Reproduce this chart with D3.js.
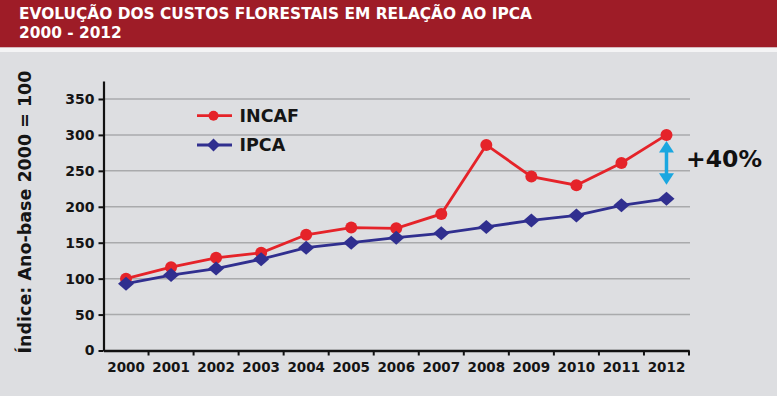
<!DOCTYPE html>
<html><head><meta charset="utf-8">
<script src="https://cdn.jsdelivr.net/npm/d3@7"></script>
<style>
html,body{margin:0;padding:0;background:#dddee1;}
svg{display:block;font-family:"DejaVu Sans",Verdana,sans-serif;}
</style></head>
<body>
<svg id="chart" width="777" height="396"></svg>
<script>
const years = ["2000","2001","2002","2003","2004","2005","2006","2007","2008","2009","2010","2011","2012"];
const incaf = [100,116,129,136,161,171,170,190,286,242,230,261,300];
const ipca  = [93,105,114,127,143,150,157,163,172,181,188,202,211];
const yTicks = [0,50,100,150,200,250,300,350];
const titleLines = ["EVOLUÇÃO DOS CUSTOS FLORESTAIS EM RELAÇÃO AO IPCA","2000 - 2012"];
const yTitle = "Índice: Ano-base 2000 = 100";
const seriesNames = ["INCAF","IPCA"];
const diffLabel = "+40%";

const svg = d3.select("#chart");
const W = 777, H = 396;
const RED = "#e52329", BLUE = "#302f8f", CYAN = "#1aa7e0";

svg.append("rect").attr("width",W).attr("height",H).attr("fill","#dddee1");
// header
svg.append("rect").attr("x",0).attr("y",0).attr("width",W).attr("height",47.5).attr("fill","#9e1c27");
svg.append("rect").attr("x",0).attr("y",47.5).attr("width",W).attr("height",4.5).attr("fill","#f4f4f5");
svg.selectAll("text.title").data(titleLines).enter().append("text")
  .attr("x",19).attr("y",(d,i)=>19+i*18.8)
  .attr("fill","#ffffff").attr("font-weight","bold").attr("font-size","15.4px")
  .text(d=>d);

const x = d3.scaleBand().domain(years).range([103.5,689]).padding(0);
const y = d3.scaleLinear().domain([0,375]).range([350.5,81]);

// gridlines
svg.append("g").selectAll("line").data(yTicks.filter(d=>d>0)).enter().append("line")
  .attr("x1",104).attr("x2",690).attr("y1",d=>y(d)).attr("y2",d=>y(d))
  .attr("stroke","#a9aaac").attr("stroke-width",1.5);

// y axis
const yAxis = svg.append("g").attr("transform","translate(103.5,0)")
  .call(d3.axisLeft(y).tickValues(yTicks).tickSize(5).tickSizeOuter(0).tickPadding(4));
yAxis.select(".domain").attr("stroke","#111").attr("stroke-width",2.2);
yAxis.selectAll(".tick line").attr("stroke","#111").attr("stroke-width",2);
yAxis.selectAll(".tick text").attr("font-size","14px").attr("font-weight","bold")
  .attr("fill","#151515").attr("font-family","DejaVu Sans");

// x axis
const xAxis = svg.append("g").attr("transform","translate(0,350.5)")
  .call(d3.axisBottom(x).tickSize(0).tickSizeOuter(0).tickPadding(12));
xAxis.select(".domain").attr("stroke","#111").attr("stroke-width",2.4);
xAxis.selectAll(".tick text").attr("font-size","13.5px").attr("font-weight","bold")
  .attr("fill","#151515").attr("font-family","DejaVu Sans");
// boundary ticks between categories
const bounds = years.map(d=>x(d)).concat([x(years[years.length-1])+x.bandwidth()]);
xAxis.selectAll("line.b").data(bounds.slice(1)).enter().append("line")
  .attr("x1",d=>d).attr("x2",d=>d).attr("y1",0).attr("y2",5)
  .attr("stroke","#111").attr("stroke-width",2);

// y title
svg.append("text").attr("transform","translate(30.5,212) rotate(-90)")
  .attr("text-anchor","middle").attr("font-size","17.5px").attr("font-weight","bold")
  .attr("fill","#151515").text(yTitle);

const cx = d => x(d)+x.bandwidth()/2;
const line = d3.line().x((d,i)=>cx(years[i])).y(d=>y(d));

// INCAF
svg.append("path").datum(incaf).attr("d",line).attr("fill","none")
  .attr("stroke",RED).attr("stroke-width",2.8);
svg.append("g").selectAll("circle").data(incaf).enter().append("circle")
  .attr("cx",(d,i)=>cx(years[i])).attr("cy",d=>y(d)).attr("r",6).attr("fill",RED);

// IPCA
const diamond = (w,h) => `M0,${-h/2}L${w/2},0L0,${h/2}L${-w/2},0Z`;
svg.append("path").datum(ipca).attr("d",line).attr("fill","none")
  .attr("stroke",BLUE).attr("stroke-width",2.8);
svg.append("g").selectAll("path").data(ipca).enter().append("path")
  .attr("transform",(d,i)=>`translate(${cx(years[i])},${y(d)})`)
  .attr("d",diamond(16,14)).attr("fill",BLUE);

// legend
const leg = svg.append("g");
const legY = [115.7,145];
seriesNames.forEach((n,i)=>{
  const c = i===0?RED:BLUE;
  leg.append("line").attr("x1",197).attr("x2",232).attr("y1",legY[i]).attr("y2",legY[i])
    .attr("stroke",c).attr("stroke-width",2.8);
  if(i===0) leg.append("circle").attr("cx",213.5).attr("cy",legY[i]).attr("r",5).attr("fill",c);
  else leg.append("path").attr("transform",`translate(213.5,${legY[i]})`).attr("d",diamond(13,13)).attr("fill",c);
  leg.append("text").attr("x",239.5).attr("y",legY[i]+6.2).attr("font-size","17.5px")
    .attr("font-weight","bold").attr("fill","#151515").text(n);
});

// difference arrow
const last = years.length-1;
const ax = cx(years[last]);
const yTop = y(incaf[last])+6, yBot = y(ipca[last])-14;
const hw = 7.5, hh = 11.5;
svg.append("line").attr("x1",ax).attr("x2",ax).attr("y1",yTop+hh-1).attr("y2",yBot-hh+1)
  .attr("stroke",CYAN).attr("stroke-width",3.5);
svg.append("path").attr("d",`M${ax},${yTop}L${ax+hw},${yTop+hh}L${ax-hw},${yTop+hh}Z`).attr("fill",CYAN);
svg.append("path").attr("d",`M${ax},${yBot}L${ax+hw},${yBot-hh}L${ax-hw},${yBot-hh}Z`).attr("fill",CYAN);
svg.append("text").attr("x",686).attr("y",167.3).attr("font-size","23.5px")
  .attr("font-weight","bold").attr("fill","#111").text(diffLabel);
</script>
</body></html>
